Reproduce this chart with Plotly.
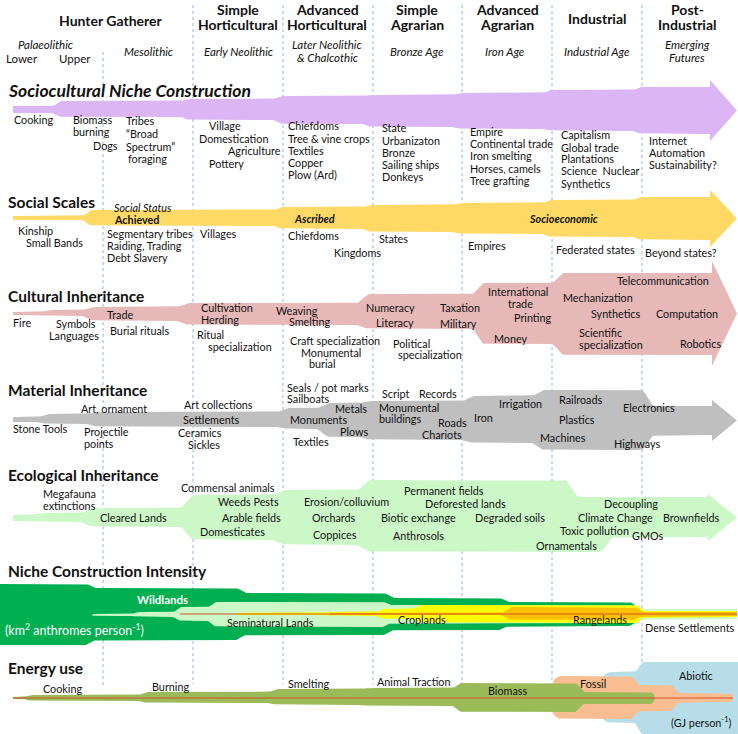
import numpy as np
import plotly.graph_objects as go

W, H = 738, 734
FONT = "Lato, 'Noto Sans', sans-serif"
TXT = "#111111"

# -------- era boundaries --------
ERA_X = [103, 193, 283, 373, 462, 552, 642]
ERA_Y0 = [52, 5, 5, 5, 5, 5, 5]
ERA_Y1 = [686, 684, 684, 684, 684, 684, 672]

# era headers, one entry per text line
ERA_LINES = ["Hunter Gatherer", "Simple", "Horticultural", "Advanced", "Horticultural",
             "Simple", "Agrarian", "Advanced", "Agrarian", "Industrial", "Post-", "Industrial"]
ERA_LINE_X = [111, 238, 238, 327, 327, 417, 417, 507, 507, 597, 687, 687]
ERA_LINE_Y = [20, 9, 24, 9, 24, 9, 24, 9, 24, 18, 9, 24]

PERIODS = ["<i>Palaeolithic</i>", "Lower", "Upper", "<i>Mesolithic</i>", "<i>Early Neolithic</i>",
           "<i>Later Neolithic</i>", "<i>& Chalcothic</i>", "<i>Bronze Age</i>", "<i>Iron Age</i>",
           "<i>Industrial Age</i>", "<i>Emerging</i>", "<i>Futures</i>"]
PERIOD_X = [45, 22, 75, 148, 238, 327, 327, 417, 505, 597, 687, 687]
PERIOD_Y = [44, 58, 58, 51, 51, 44, 57, 51, 51, 51, 44, 57]

SECTIONS = ["<i>Sociocultural Niche Construction</i>", "Social Scales", "Cultural Inheritance",
            "Material Inheritance", "Ecological Inheritance", "Niche Construction Intensity",
            "Energy use"]
SECTION_Y = [90, 202, 296, 390, 475, 571, 668]

# -------- band outlines (x breakpoints, top y, bottom y) --------
PURPLE_X = [13, 62, 190, 283, 372, 462, 552, 642]
PURPLE_TOP = [106, 101, 99, 96, 95, 93, 90, 87]
PURPLE_BOT = [113, 117, 120, 124, 127, 129, 131, 134]

GOLD_X = [13, 92, 283, 372, 462, 552, 642]
GOLD_TOP = [216, 210, 207, 205, 203, 200, 197]
GOLD_BOT = [220, 226, 229, 232, 234, 237, 240]

PINK_X = [13, 52, 95, 190, 370, 485, 565]
PINK_TOP = [312, 310, 307, 303, 294, 283, 273]
PINK_BOT = [315, 316, 321, 325, 329, 344, 355]

GREY_X = [13, 50, 100, 290, 330, 372, 475, 545, 655]
GREY_TOP = [417, 414, 412, 408, 403, 401, 396, 390, 406]
GREY_BOT = [422, 424, 427, 429, 437, 440, 443, 450, 435]

MINT_X = [13, 45, 95, 195, 287, 372, 580, 615]
MINT_TOP = [515, 513, 508, 495, 490, 480, 497, 497]
MINT_BOT = [521, 522, 527, 540, 545, 552, 552, 537]

WILD_X = [0, 97, 247, 395, 510]
WILD_TOP = [584, 588, 593, 598, 602]
WILD_BOT = [645, 640, 635, 630, 626]

SEMI_X = [92, 140, 182, 217, 392, 645]
SEMI_TOP = [614, 612, 607, 602, 605, 609]
SEMI_BOT = [616, 617, 621, 627, 623, 619]

CROP_X = [237, 330, 385, 422, 645]
CROP_TOP = [613, 612, 609, 605, 611]
CROP_BOT = [615, 616, 619, 623, 617]

RANGE_X = [330, 512, 645]
RANGE_TOP = [613, 607, 612]
RANGE_BOT = [615, 620, 616]

BIO_X = [13, 33, 148, 278, 370, 462, 585]
BIO_TOP = [697, 695, 692, 689, 688, 683, 692]
BIO_BOT = [699, 701, 703, 705, 706, 712, 704]

FOSSIL_X = [552, 640, 680]
FOSSIL_TOP = [676, 685, 693]
FOSSIL_BOT = [719, 711, 702]

ABIO_X = [600, 644]
ABIO_TOP = [672, 662]
ABIO_BOT = [723, 736]

# -------- labels --------
SOCIO_LABELS = [("Cooking", 13, 119), ("Biomass", 72, 119), ("burning", 72, 131), ("Dogs", 92, 145),
                ("Tribes", 125, 120), ("\u201cBroad", 125, 133), ("Spectrum\u201d", 125, 146), ("foraging", 127, 158),
                ("Village", 208, 125), ("Domestication", 198, 138), ("Agriculture", 227, 150), ("Pottery", 208, 163),
                ("Chiefdoms", 287, 125), ("Tree & vine crops", 287, 138), ("Textiles", 287, 150),
                ("Copper", 287, 162), ("Plow (Ard)", 287, 174),
                ("State", 381, 127), ("Urbanizaton", 381, 140), ("Bronze", 381, 152),
                ("Sailing ships", 381, 164), ("Donkeys", 381, 176),
                ("Empire", 469, 131), ("Continental trade", 469, 143), ("Iron smelting", 469, 155),
                ("Horses, camels", 469, 168), ("Tree grafting", 469, 180),
                ("Capitalism", 560, 134), ("Global trade", 560, 147), ("Plantations", 560, 158),
                ("Science  Nuclear", 560, 170), ("Synthetics", 560, 183),
                ("Internet", 648, 140), ("Automation", 648, 152), ("Sustainability?", 648, 164)]

SOCIAL_LABELS = [("<i>Social Status</i>", 113, 207), ("<b>Achieved</b>", 113, 219),
                 ("<b><i>Ascribed</i></b>", 293, 218), ("<b><i>Socioeconomic</i></b>", 528, 218),
                 ("Kinship", 17, 230), ("Small Bands", 25, 242), ("Segmentary tribes", 106, 233),
                 ("Raiding, Trading", 106, 245), ("Debt Slavery", 106, 257), ("Villages", 199, 233),
                 ("Chiefdoms", 287, 235), ("Kingdoms", 333, 252), ("States", 378, 238),
                 ("Empires", 467, 245), ("Federated states", 555, 249), ("Beyond states?", 644, 252)]

CULT_LABELS = [("Fire", 12, 322), ("Symbols", 55, 323), ("Languages", 48, 335), ("Trade", 106, 314),
               ("Burial rituals", 109, 330), ("Cultivation", 200, 307), ("Herding", 200, 319),
               ("Ritual", 196, 334), ("specialization", 207, 346), ("Weaving", 275, 310),
               ("Smelting", 288, 321), ("Craft specialization", 289, 340), ("Monumental", 300, 352),
               ("burial", 308, 363), ("Numeracy", 365, 307), ("Literacy", 375, 322),
               ("Taxation", 439, 307), ("Military", 439, 323), ("Political", 392, 343),
               ("specialization", 397, 354), ("International", 487, 291), ("trade", 507, 303),
               ("Printing", 513, 317), ("Money", 493, 338), ("Telecommunication", 616, 280),
               ("Mechanization", 562, 297), ("Synthetics", 590, 313), ("Computation", 655, 313),
               ("Scientific", 578, 332), ("specialization", 578, 344), ("Robotics", 679, 343)]

MAT_LABELS = [("Stone Tools", 12, 428), ("Art, ornament", 80, 408), ("Projectile", 83, 431),
              ("points", 83, 443), ("Art collections", 183, 404), ("Settlements", 182, 419),
              ("Ceramics", 177, 432), ("Sickles", 187, 444), ("Seals / pot marks", 286, 387),
              ("Sailboats", 286, 398), ("Metals", 334, 408), ("Monuments", 289, 419),
              ("Plows", 339, 431), ("Textiles", 292, 441), ("Script", 381, 393), ("Records", 418, 393),
              ("Monumental", 378, 407), ("buildings", 378, 418), ("Roads", 437, 422),
              ("Chariots", 421, 434), ("Iron", 473, 417), ("Irrigation", 498, 403),
              ("Railroads", 558, 399), ("Plastics", 558, 419), ("Electronics", 622, 407),
              ("Machines", 539, 437), ("Highways", 613, 443)]

ECO_LABELS = [("Megafauna", 42, 493), ("extinctions", 42, 505), ("Cleared Lands", 99, 517),
              ("Commensal animals", 180, 487), ("Weeds Pests", 217, 501), ("Arable fields", 221, 517),
              ("Domesticates", 199, 531), ("Erosion/colluvium", 303, 501), ("Orchards", 311, 517),
              ("Coppices", 312, 534), ("Permanent fields", 403, 490), ("Deforested lands", 424, 503),
              ("Biotic exchange", 380, 517), ("Degraded soils", 474, 517), ("Anthrosols", 392, 535),
              ("Decoupling", 603, 503), ("Climate Change", 577, 517), ("Brownfields", 662, 517),
              ("Toxic pollution", 559, 530), ("GMOs", 631, 535), ("Ornamentals", 535, 545)]

NCI_LABELS = [("Seminatural Lands", 226, 622), ("Croplands", 397, 619), ("Rangelands", 572, 619),
              ("Dense Settlements", 644, 627)]

ENERGY_LABELS = [("Cooking", 42, 688), ("Burning", 151, 686), ("Smelting", 287, 683),
                 ("Animal Traction", 376, 681), ("Biomass", 487, 690), ("Fossil", 579, 683),
                 ("Abiotic", 678, 675), ("(GJ person<sup>-1</sup>)", 670, 722)]


def smooth(xs, vals, grid, ramp):
    out = np.full(grid.shape, float(vals[0]))
    for i in range(1, len(xs)):
        t = np.clip((grid - (xs[i] - ramp)) / ramp, 0, 1)
        out += (vals[i] - vals[i - 1]) * (1 - np.cos(np.pi * t)) / 2
    return out


def band(xs, tops, bots, x_end, head=None, ramp=10, rl=0, rr=0):
    grid = np.linspace(xs[0], x_end, 500)
    top = smooth(xs, tops, grid, ramp)
    bot = smooth(xs, bots, grid, ramp)
    if rr:
        d = np.clip(grid - (x_end - rr), 0, rr)
        off = rr - np.sqrt(rr ** 2 - d ** 2)
        top, bot = top + off, bot - off
    if rl:
        d = np.clip((xs[0] + rl) - grid, 0, rl)
        off = rl - np.sqrt(rl ** 2 - d ** 2)
        top, bot = top + off, bot - off
    px = list(grid)
    py = list(top)
    if head:
        ht, hb, tip = head
        px += [x_end, tip, x_end]
        py += [ht, (ht + hb) / 2, hb]
    px += list(grid[::-1])
    py += list(bot[::-1])
    return px, py


fig = go.Figure()

# dashed era lines
for x, y0, y1 in zip(ERA_X, ERA_Y0, ERA_Y1):
    fig.add_trace(go.Scatter(x=[x, x], y=[y0, y1], mode="lines",
                             line=dict(color="#8DB9DD", width=1, dash="dot"), hoverinfo="skip"))


def add_band(px, py, color):
    fig.add_trace(go.Scatter(x=px, y=py, fill="toself", fillcolor=color, mode="lines",
                             line=dict(width=0, color=color), hoverinfo="skip"))


add_band(*band(PURPLE_X, PURPLE_TOP, PURPLE_BOT, 710, head=(80, 141, 737)), "#DCB5F4")
add_band(*band(GOLD_X, GOLD_TOP, GOLD_BOT, 710, head=(190, 247, 737)), "#FFD966")
add_band(*band(PINK_X, PINK_TOP, PINK_BOT, 712, head=(261, 366, 737), ramp=14), "#E6B9B8")
add_band(*band(GREY_X, GREY_TOP, GREY_BOT, 712, head=(400, 441, 737), ramp=14), "#BFBFBF")
add_band(*band(MINT_X, MINT_TOP, MINT_BOT, 708, head=(494, 541, 737), ramp=16), "#CCF8C8")

# niche construction intensity
add_band(*band(WILD_X, WILD_TOP, WILD_BOT, 637, ramp=12, rr=9), "#00B050")
add_band(*band(SEMI_X, SEMI_TOP, SEMI_BOT, 737, ramp=10, rl=2), "#CCF8C8")
add_band(*band(CROP_X, CROP_TOP, CROP_BOT, 737, ramp=10), "#FFFF00")
add_band(*band(RANGE_X, RANGE_TOP, RANGE_BOT, 737, ramp=12), "#FFC000")
fig.add_trace(go.Scatter(x=[180, 737], y=[614, 614], mode="lines",
                         line=dict(color="#D0502A", width=1), hoverinfo="skip"))

# energy use
add_band(*band(ABIO_X, ABIO_TOP, ABIO_BOT, 738, ramp=10, rl=12), "#B7DEE8")
add_band(*band(FOSSIL_X, FOSSIL_TOP, FOSSIL_BOT, 733, ramp=10, rl=10, rr=4), "#F8BE91")
add_band(*band(BIO_X, BIO_TOP, BIO_BOT, 655, ramp=10, rr=6), "#9BBB59")
fig.add_trace(go.Scatter(x=[13, 733], y=[698, 698], mode="lines",
                         line=dict(color="#D0502A", width=1), hoverinfo="skip"))

ann = []


def label(text, x, y, size=10.8, color=TXT, anchor="left"):
    ann.append(dict(text=text, x=x, y=y, xref="x", yref="y", showarrow=False,
                    xanchor=anchor, yanchor="middle", align=anchor,
                    borderpad=0, font=dict(family=FONT, size=size, color=color)))


for t, x, y in zip(ERA_LINES, ERA_LINE_X, ERA_LINE_Y):
    label("<b>" + t + "</b>", x, y, size=14, anchor="center")
for t, x, y in zip(PERIODS, PERIOD_X, PERIOD_Y):
    label(t, x, y, size=11.5, anchor="center")
for i, (t, y) in enumerate(zip(SECTIONS, SECTION_Y)):
    label("<b>" + t + "</b>", 7, y, size=17.5 if i == 0 else 15.5)

for group in [SOCIO_LABELS, SOCIAL_LABELS, CULT_LABELS, MAT_LABELS, ECO_LABELS, NCI_LABELS, ENERGY_LABELS]:
    for t, x, y in group:
        label(t, x, y)

label("<b>Wildlands</b>", 136, 599, size=11.5, color="white")
label("(km<sup>2</sup> anthromes person<sup>-1</sup>)", 4, 629, size=12.5, color="white")

fig.update_layout(
    width=W, height=H,
    margin=dict(l=0, r=0, t=0, b=0),
    paper_bgcolor="white", plot_bgcolor="white",
    showlegend=False,
    xaxis=dict(range=[0, W], visible=False, fixedrange=True),
    yaxis=dict(range=[H, 0], visible=False, fixedrange=True),
    annotations=ann,
)

fig.write_html("out.html", config={"displayModeBar": False},
               post_script="document.body.style.margin='0px';")
